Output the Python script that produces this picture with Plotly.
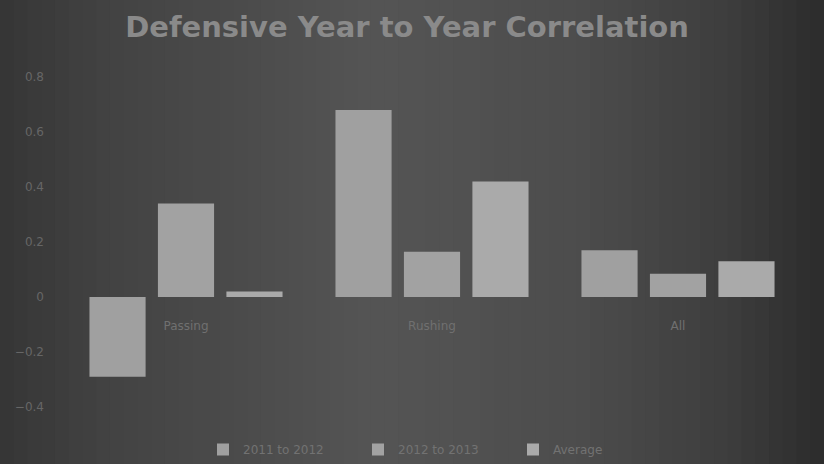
import plotly.graph_objects as go

# categorias y series
categorias = ['Passing', 'Rushing', 'All']
series = ['2011 to 2012', '2012 to 2013', 'Average']
valores_s1 = [-0.29, 0.68, 0.17]
valores_s2 = [0.34, 0.165, 0.085]
valores_prom = [0.02, 0.42, 0.13]
ticks_y = [-0.4, -0.2, 0, 0.2, 0.4, 0.6, 0.8]

colores = ['#a0a0a0', '#a2a2a2', '#aaaaaa']

fig = go.Figure()
for nombre, vals, color in zip(series, [valores_s1, valores_s2, valores_prom], colores):
    fig.add_trace(go.Bar(x=categorias, y=vals, name=nombre, marker=dict(color=color, line=dict(width=0))))

# el area del grafico llega hasta abajo para que la leyenda no empuje los margenes
ancho, alto = 824, 464
izq, der, arr, aba = 63, 23, 77, 0
w_plot = ancho - izq - der
h_plot = alto - arr - aba
y_max = 0.8
y_min = y_max - h_plot / 275.0   # 275 px por unidad, como en la referencia
pos_cero = -y_min / (y_max - y_min)

# fondo con degradado horizontal (viñeta)
paradas = [(0.0, 54), (0.12, 66), (0.45, 85), (0.7, 77), (0.88, 62), (1.0, 44)]
n = 60
for i in range(n):
    f = (i + 0.5) / n
    for (a, ca), (b, cb) in zip(paradas[:-1], paradas[1:]):
        if a <= f <= b:
            c = int(ca + (cb - ca) * (f - a) / (b - a))
            break
    px0 = i / n * ancho
    px1 = (i + 1) / n * ancho + 1
    fig.add_shape(type='rect', xref='paper', yref='paper', layer='below',
                  x0=(px0 - izq) / w_plot, x1=(px1 - izq) / w_plot,
                  y0=-0.01, y1=1 + arr / h_plot,
                  fillcolor=f'rgb({c},{c},{c})', line=dict(width=0))

fig.update_layout(
    width=ancho, height=alto,
    margin=dict(l=izq, r=der, t=arr, b=aba),
    title=dict(text='<b>Defensive Year to Year Correlation</b>', x=0.494, xanchor='center',
               y=0.942, yanchor='middle', font=dict(family='DejaVu Sans', size=29, color='#8a8a8a')),
    paper_bgcolor='#484848', plot_bgcolor='rgba(0,0,0,0)',
    font=dict(family='DejaVu Sans', size=12, color='#707070'),
    barmode='group', bargap=0.165, bargroupgap=0.18,
    showlegend=True,
    legend=dict(orientation='h', x=(203 - izq) / w_plot, xanchor='left',
                y=0, yanchor='bottom', entrywidth=110, entrywidthmode='pixels',
                font=dict(size=12, color='#727272'), bgcolor='rgba(0,0,0,0)'),
    xaxis=dict(anchor='free', position=pos_cero, showline=False, showgrid=False, zeroline=False,
               ticks='outside', ticklen=18, tickcolor='rgba(0,0,0,0)',
               tickfont=dict(size=12, color='#707070')),
    yaxis=dict(range=[y_min, y_max], tickvals=ticks_y, showgrid=False,
               zeroline=False, showline=False, ticks='', ticklabelstandoff=18,
               tickfont=dict(size=12, color='#666666')),
)

fig.write_html("out.html", config={'displayModeBar': False},
               post_script="document.body.style.margin='0';")
